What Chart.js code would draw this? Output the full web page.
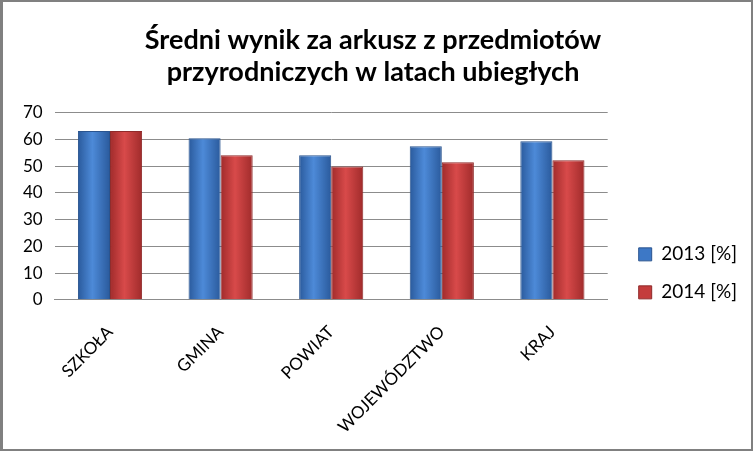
<!DOCTYPE html>
<html>
<head>
<meta charset="utf-8">
<script src="https://cdn.jsdelivr.net/npm/chart.js@4/dist/chart.umd.min.js"></script>
<style>
  html, body { margin: 0; padding: 0; background: #fff; }
  #wrap {
    width: 753px; height: 451px; box-sizing: border-box;
    border: 2px solid #808080; border-left-width: 3px; background: #fff;
  }
</style>
</head>
<body>
<div id="wrap"><canvas id="chart" width="748" height="447"></canvas></div>
<script>
        // Dane wykresu
        const categories = ['SZKOŁA', 'GMINA', 'POWIAT', 'WOJEWÓDZTWO', 'KRAJ'];
        const values2013 = [63.2, 60.5, 54.1, 57.5, 59.4];
        const values2014 = [63.2, 54.1, 49.9, 51.5, 52.2];
        const seriesNames = ['2013 [%]', '2014 [%]'];
        const yTicks = [0, 10, 20, 30, 40, 50, 60, 70];

        const FONT = 'Lato, "Open Sans", "DejaVu Sans", sans-serif';
        const CAT_PCT = 0.58;

        // cieniowanie słupków (jasny środek, ciemne krawędzie)
        function barShade(light, dark, side) {
            return function(context) {
                const chart = context.chart;
                const xs = chart.scales.x;
                if (!chart.chartArea || !xs || context.dataIndex === undefined) return light;
                const catW = xs.width / categories.length;
                const w = catW * CAT_PCT / 2;
                const c = xs.getPixelForValue(context.dataIndex);
                const left = side === 0 ? c - w : c;
                const g = chart.ctx.createLinearGradient(left, 0, left + w, 0);
                g.addColorStop(0, dark);
                g.addColorStop(0.45, light);
                g.addColorStop(1, dark);
                return g;
            };
        }

        // legenda kończy się przy dolnej krawędzi obszaru wykresu
        const legendToBottom = {
            id: 'legendToBottom',
            afterLayout(chart) {
                const lg = chart.legend;
                if (!lg) return;
                lg.bottom = chart.chartArea.bottom + 21;
                lg.height = lg.bottom - lg.top;
                lg.left += 12;
                lg.right += 12;
            }
        };

        const ctx = document.getElementById('chart').getContext('2d');
        new Chart(ctx, {
            type: 'bar',
            data: {
                labels: categories,
                datasets: [{
                    label: seriesNames[0],
                    data: values2013,
                    backgroundColor: barShade('#4d8ad8', '#2a5a9c', 0),
                    borderColor: '#2a548f',
                    borderWidth: 1,
                    categoryPercentage: CAT_PCT,
                    barPercentage: 1
                }, {
                    label: seriesNames[1],
                    data: values2014,
                    backgroundColor: barShade('#d84a4a', '#a02b2b', 1),
                    borderColor: '#8f2a2a',
                    borderWidth: 1,
                    categoryPercentage: CAT_PCT,
                    barPercentage: 1
                }]
            },
            plugins: [legendToBottom],
            options: {
                responsive: false,
                animation: false,
                layout: {
                    padding: { left: 8, right: 16, top: 4, bottom: -2 }
                },
                scales: {
                    y: {
                        min: 0,
                        max: 70,
                        afterBuildTicks: function(axis) {
                            axis.ticks = yTicks.map(v => ({ value: v }));
                        },
                        ticks: {
                            color: '#000',
                            font: { family: FONT, size: 17 },
                            padding: 12
                        },
                        grid: {
                            color: '#8c8c8c',
                            drawTicks: false
                        },
                        border: { display: false }
                    },
                    x: {
                        ticks: {
                            color: '#000',
                            font: { family: FONT, size: 17 },
                            maxRotation: 45,
                            minRotation: 45,
                            padding: 14
                        },
                        grid: { display: false },
                        border: { display: true, color: '#8c8c8c' }
                    }
                },
                plugins: {
                    legend: {
                        position: 'right',
                        align: 'end',
                        labels: {
                            color: '#000',
                            font: { family: FONT, size: 19 },
                            boxWidth: 13,
                            boxHeight: 13,
                            padding: 19,
                            generateLabels: function(chart) {
                                const fills = ['#3d78c6', '#c43c3c'];
                                const strokes = ['#2a548f', '#8f2a2a'];
                                return chart.data.datasets.map((ds, i) => ({
                                    text: ds.label,
                                    fillStyle: fills[i],
                                    strokeStyle: strokes[i],
                                    lineWidth: 1,
                                    datasetIndex: i
                                }));
                            }
                        }
                    },
                    title: {
                        display: true,
                        text: ['Średni wynik za arkusz z przedmiotów', 'przyrodniczych w latach ubiegłych'],
                        color: '#000',
                        font: { family: FONT, size: 27, weight: 'bold', lineHeight: 1.2 },
                        padding: { top: 18, bottom: 24 }
                    },
                    tooltip: { enabled: false }
                }
            }
        });
</script>
</body>
</html>
